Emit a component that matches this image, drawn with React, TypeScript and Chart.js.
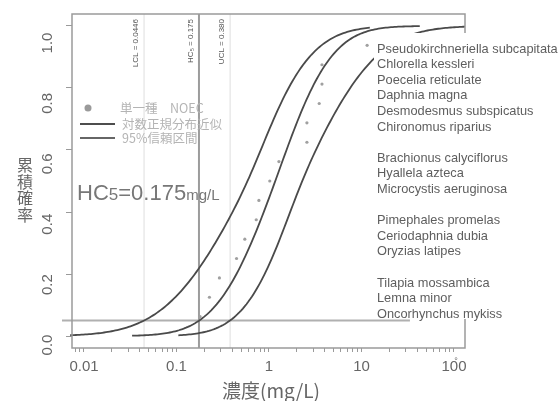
import React, { useEffect, useRef } from 'react';
import { Chart, registerables } from 'chart.js';

Chart.register(...registerables);

// Single-species NOEC values (mg/L), ascending
const NOEC = [0.18, 0.227, 0.291, 0.446, 0.548, 0.728, 0.778, 1.02, 1.28, 2.57, 2.57, 3.49, 3.74, 3.74, 11.5];

// Species listed beside the plot, in groups
const SPECIES_GROUPS = [
  ['Pseudokirchneriella subcapitata', 'Chlorella kessleri', 'Poecelia reticulate', 'Daphnia magna', 'Desmodesmus subspicatus', 'Chironomus riparius'],
  ['Brachionus calyciflorus', 'Hyallela azteca', 'Microcystis aeruginosa'],
  ['Pimephales promelas', 'Ceriodaphnia dubia', 'Oryzias latipes'],
  ['Tilapia mossambica', 'Lemna minor', 'Oncorhynchus mykiss'],
];

// Hazardous concentration and its 95% limits (mg/L)
const HC5 = 0.175;
const LCL = 0.0446;
const UCL = 0.38;
const P_CUT = 0.05;

// Log-normal fit and 95% band curves, in log10(mg/L)
const FIT = { mu: 0.068, sdLow: 0.5, sdHigh: 0.47, from: -1.48, to: 1.63 };
const BAND_UPPER = { mu: -0.232, sdLow: 0.68, sdHigh: 0.52, from: -2.17, to: 1.09 };
const BAND_LOWER = { mu: 0.36, sdLow: 0.474, sdHigh: 0.62, from: -0.98, to: 2.12 };

const X_TICKS = [0.01, 0.1, 1, 10, 100];
const X_LABELS = ['0.01', '0.1', '1', '10', '100'];
const Y_TICKS = [0, 0.2, 0.4, 0.6, 0.8, 1.0];
const Y_LABELS = ['0.0', '0.2', '0.4', '0.6', '0.8', '1.0'];

const X_MIN = 0.00742;
const X_MAX = 131.5;
const Y_MIN = -0.0387;
const Y_MAX = 1.0387;

const LATIN = '"Liberation Sans", Arial, sans-serif';
const CJK = '"Noto Sans CJK JP", "Noto Sans", sans-serif';

function phi(z: number): number {
  const t = 1 / (1 + 0.2316419 * Math.abs(z));
  const d = 0.3989423 * Math.exp((-z * z) / 2);
  const p = d * t * (0.3193815 + t * (-0.3565638 + t * (1.781478 + t * (-1.821256 + t * 1.330274))));
  return z > 0 ? 1 - p : p;
}

function cdfCurve(c: { mu: number; sdLow: number; sdHigh: number; from: number; to: number }) {
  const n = 160;
  const pts: { x: number; y: number }[] = [];
  for (let k = 0; k <= n; k++) {
    const t = c.from + ((c.to - c.from) * k) / n;
    const u = t - c.mu;
    const s = (c.sdLow + c.sdHigh) / 2 + ((c.sdHigh - c.sdLow) / 2) * Math.tanh(u / 0.3);
    pts.push({ x: Math.pow(10, t), y: phi(u / s) });
  }
  return pts;
}

const decorations = {
  id: 'ssdDecorations',
  afterDatasetsDraw(chart: any) {
    const { ctx, chartArea: a, scales } = chart;
    const xs = scales.x;
    const ys = scales.y;
    ctx.save();

    // plot frame
    ctx.strokeStyle = '#9a9a9a';
    ctx.lineWidth = 1.5;
    ctx.strokeRect(a.left, a.top, a.right - a.left, a.bottom - a.top);

    // species list panel
    ctx.fillStyle = '#ffffff';
    ctx.fillRect(a.right - 91, a.top + 19, 200, 286);
    ctx.fillStyle = '#5e5e5e';
    ctx.font = `12.8px ${LATIN}`;
    ctx.textAlign = 'left';
    ctx.textBaseline = 'middle';
    let line = 0;
    SPECIES_GROUPS.forEach((g) => {
      g.forEach((name) => {
        ctx.fillText(name, a.right - 88, 49 + line * 15.6);
        line++;
      });
      line++;
    });

    // vertical limit labels
    const vLabel = (text: string, v: number) => {
      ctx.save();
      ctx.translate(xs.getPixelForValue(v) - 8, a.top + 5);
      ctx.rotate(-Math.PI / 2);
      ctx.font = `8px ${LATIN}`;
      ctx.fillStyle = '#555';
      ctx.textAlign = 'right';
      ctx.textBaseline = 'middle';
      ctx.fillText(text, 0, 0);
      ctx.restore();
    };
    vLabel('LCL = 0.0446', LCL);
    vLabel('HC\u2085 = 0.175', HC5);
    vLabel('UCL = 0.380', UCL);

    // legend
    const lx = a.left + 8;
    ctx.fillStyle = '#9a9a9a';
    ctx.beginPath();
    ctx.arc(lx + 8, 108, 3.5, 0, Math.PI * 2);
    ctx.fill();
    ctx.strokeStyle = '#4d4d4d';
    ctx.lineWidth = 2;
    ctx.beginPath();
    ctx.moveTo(lx, 124);
    ctx.lineTo(lx + 35, 124);
    ctx.stroke();
    ctx.strokeStyle = '#666';
    ctx.lineWidth = 1.8;
    ctx.beginPath();
    ctx.moveTo(lx, 138);
    ctx.lineTo(lx + 35, 138);
    ctx.stroke();
    ctx.fillStyle = '#b4b4b4';
    ctx.font = `12.5px ${CJK}`;
    ctx.textAlign = 'left';
    ctx.textBaseline = 'middle';
    ctx.fillText('単一種\u3000NOEC', 120, 108);
    ctx.fillText('対数正規分布近似', 122, 124);
    ctx.fillText('95%信頼区間', 122, 138);

    // HC5 statement
    ctx.fillStyle = '#777';
    ctx.textBaseline = 'alphabetic';
    let hx = 77;
    const part = (t: string, size: number) => {
      ctx.font = `${size}px ${LATIN}`;
      ctx.fillText(t, hx, 200);
      hx += ctx.measureText(t).width;
    };
    part('HC', 22);
    part('5', 17);
    part('=0.175', 22);
    part('mg/L', 15);

    // y tick labels (rotated)
    ctx.fillStyle = '#666';
    ctx.font = `15px ${LATIN}`;
    ctx.textAlign = 'center';
    ctx.textBaseline = 'middle';
    Y_TICKS.forEach((v, i) => {
      ctx.save();
      ctx.translate(48, ys.getPixelForValue(v) + 9 + 8 * v);
      ctx.rotate(-Math.PI / 2);
      ctx.fillText(Y_LABELS[i], 0, 0);
      ctx.restore();
    });
    ctx.font = `9px ${LATIN}`;
    ctx.fillText('\u00b0', a.right - 9, 362);

    // axis titles
    ctx.fillStyle = '#666';
    ctx.font = `19px ${CJK}`;
    ctx.textAlign = 'center';
    ctx.fillText('濃度(mg/L)', 271, 391);
    ctx.font = `16px ${CJK}`;
    '累積確率'.split('').forEach((ch, i) => {
      ctx.fillText(ch, 25, 165 + i * 16.5);
    });

    ctx.restore();
  },
};

export default function App() {
  const ref = useRef<HTMLCanvasElement | null>(null);

  useEffect(() => {
    document.body.style.margin = '0';
    const canvas = ref.current;
    if (!canvas) return;

    const curveStyle = { showLine: true, pointRadius: 0, borderColor: '#4a4a4a', borderWidth: 1.8, fill: false };
    const points = NOEC.map((v, i) => ({ x: v, y: (i + 1) / (NOEC.length + 1) }));

    const chart = new Chart(canvas, {
      type: 'scatter',
      data: {
        datasets: [
          { data: points, pointRadius: 1.6, pointBackgroundColor: '#a0a0a0', pointBorderWidth: 0 },
          { ...curveStyle, data: cdfCurve(FIT) },
          { ...curveStyle, data: cdfCurve(BAND_UPPER), clip: { left: 6, top: 0, right: 0, bottom: 0 } },
          { ...curveStyle, data: cdfCurve(BAND_LOWER) },
          { showLine: true, pointRadius: 0, borderColor: '#9c9c9c', borderWidth: 2, data: [{ x: HC5, y: Y_MIN }, { x: HC5, y: Y_MAX }] },
          { showLine: true, pointRadius: 0, borderColor: '#b0b0b0', borderWidth: 2, clip: { left: 10, top: 0, right: 0, bottom: 0 }, data: [{ x: 0.005, y: P_CUT }, { x: 33.4, y: P_CUT }] },
          { showLine: true, pointRadius: 0, borderColor: '#dedede', borderWidth: 1, data: [{ x: LCL, y: Y_MIN }, { x: LCL, y: Y_MAX }] },
          { showLine: true, pointRadius: 0, borderColor: '#dedede', borderWidth: 1, data: [{ x: UCL, y: Y_MIN }, { x: UCL, y: Y_MAX }] },
        ] as any,
      },
      options: {
        responsive: false,
        animation: false,
        layout: { padding: { top: 14, right: 94, left: 0, bottom: 0 } },
        plugins: { legend: { display: false }, tooltip: { enabled: false } },
        scales: {
          x: {
            type: 'logarithmic',
            min: X_MIN,
            max: X_MAX,
            afterBuildTicks: (s: any) => {
              const t: { value: number }[] = [];
              for (let e = -3; e <= 2; e++) {
                for (let m = 1; m <= 9; m++) {
                  const v = m * Math.pow(10, e);
                  if (v >= X_MIN && v <= X_MAX) t.push({ value: v });
                }
              }
              s.ticks = t;
            },
            afterFit: (s: any) => {
              s.height = 53;
            },
            ticks: {
              autoSkip: false,
              maxRotation: 0,
              minRotation: 0,
              padding: 6,
              color: '#666',
              font: { size: 15, family: LATIN },
              callback: (v: any) => {
                const i = X_TICKS.findIndex((t) => Math.abs(Math.log10(t) - Math.log10(Number(v))) < 1e-6);
                return i >= 0 ? X_LABELS[i] : '';
              },
            },
            grid: { drawOnChartArea: false, drawTicks: true, tickLength: 4, color: '#9a9a9a' },
            border: { display: false },
          },
          y: {
            type: 'linear',
            min: Y_MIN,
            max: Y_MAX,
            afterBuildTicks: (s: any) => {
              s.ticks = Y_TICKS.map((v) => ({ value: v }));
            },
            afterFit: (s: any) => {
              s.width = 72;
            },
            ticks: { display: false },
            grid: { drawOnChartArea: false, drawTicks: true, tickLength: 6, color: '#9a9a9a' },
            border: { display: false },
          },
        },
      } as any,
      plugins: [decorations],
    });

    return () => chart.destroy();
  }, []);

  return (
    <div style={{ width: 559, height: 401 }}>
      <canvas ref={ref} width={559} height={401} style={{ display: 'block' }} />
    </div>
  );
}
